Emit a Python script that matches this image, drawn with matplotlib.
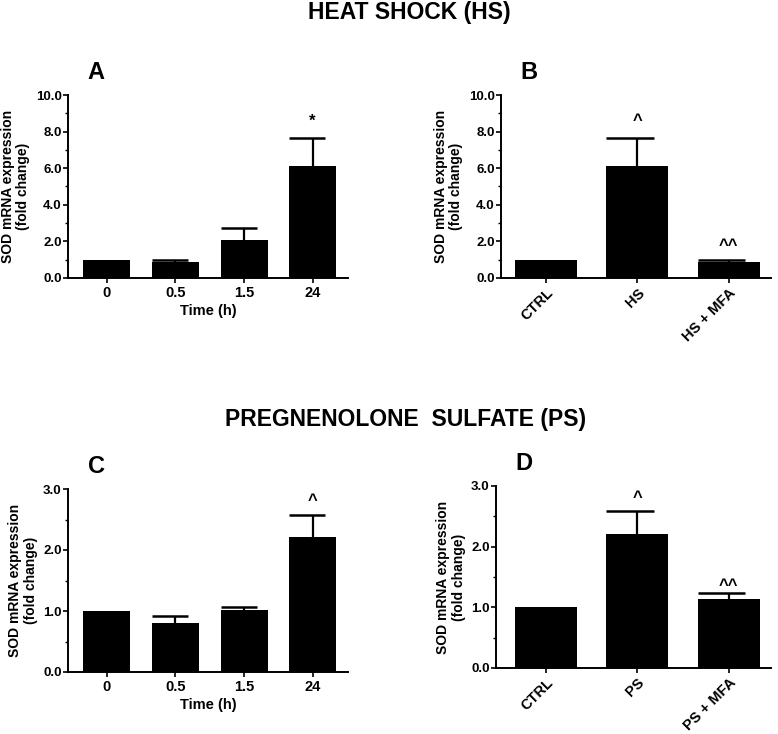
import matplotlib
matplotlib.use('Agg')
import matplotlib.pyplot as plt
import numpy as np

plt.rcParams['font.family'] = ['Liberation Sans', 'DejaVu Sans']
plt.rcParams['font.weight'] = 'bold'

# data
time_labels = ['0', '0.5', '1.5', '24']
hs_time_mean = [1.0, 0.9, 2.1, 6.1]
hs_time_err = [0.0, 0.07, 0.65, 1.57]
hs_time_marks = ['', '', '', '*']

hs_groups = ['CTRL', 'HS', 'HS + MFA']
hs_group_mean = [1.0, 6.1, 0.9]
hs_group_err = [0.0, 1.57, 0.1]
hs_group_marks = ['', '^', '^^']

ps_time_mean = [1.0, 0.8, 1.01, 2.21]
ps_time_err = [0.0, 0.11, 0.06, 0.37]
ps_time_marks = ['', '', '', '^']

ps_groups = ['CTRL', 'PS', 'PS + MFA']
ps_group_mean = [1.0, 2.21, 1.14]
ps_group_err = [0.0, 0.37, 0.1]
ps_group_marks = ['', '^', '^^']

W, H = 778, 734
fig = plt.figure(figsize=(W / 100, H / 100), dpi=100)


def px_axes(left, right, top, bottom):
    return fig.add_axes([left / W, 1 - bottom / H, (right - left) / W, (bottom - top) / H])


def panel(ax, labels, mean, err, marks, ymax, major, xlim, width, rotate,
          letter, mark_off, xlabel=None):
    x = np.arange(len(mean))
    ax.bar(x, mean, width=width, color='black', zorder=2)
    for xi, m, e in zip(x, mean, err):
        if e > 0:
            ax.vlines(xi, m, m + e, color='black', lw=1.6, zorder=1)
            ax.hlines(m + e, xi - width / 2, xi + width * 0.27, color='black', lw=1.8, zorder=1)
    for xi, m, e, t, off in zip(x, mean, err, marks, mark_off):
        if t:
            ax.annotate(t, (xi, m + e), xytext=(0, off), textcoords='offset points',
                        ha='center', va='center', fontsize=12, fontweight='bold')
    ax.set_xlim(*xlim)
    ax.set_ylim(0, ymax)
    ax.set_yticks(np.arange(0, ymax + 1e-9, major))
    ax.set_yticks(np.arange(major / 2, ymax, major), minor=True)
    ax.set_yticklabels(['%.1f' % v for v in np.arange(0, ymax + 1e-9, major)])
    ax.set_xticks(x)
    if rotate:
        ax.set_xticklabels(labels, rotation=45, ha='right', va='top', rotation_mode='anchor')
    else:
        ax.set_xticklabels(labels)
    for s in ['top', 'right']:
        ax.spines[s].set_visible(False)
    for s in ['left', 'bottom']:
        ax.spines[s].set_linewidth(1.4)
    ax.tick_params(axis='both', which='major', length=3.5, width=1.2, pad=1)
    ax.tick_params(axis='y', labelsize=9.5)
    ax.tick_params(axis='x', labelsize=10.5, pad=2)
    ax.tick_params(axis='y', which='minor', length=2.5, width=1.0)
    for lab in ax.get_xticklabels() + ax.get_yticklabels():
        lab.set_fontweight('bold')
    ax.set_ylabel('SOD mRNA expression\n(fold change)', fontsize=10, fontweight='bold',
                  labelpad=4, linespacing=1.1)
    if xlabel:
        ax.set_xlabel(xlabel, fontsize=10.5, fontweight='bold', labelpad=3)
    ax.text(0.07, 1.06, letter, transform=ax.transAxes, fontsize=17, fontweight='bold',
            ha='left', va='bottom')


axA = px_axes(68, 348, 95, 278)
panel(axA, time_labels, hs_time_mean, hs_time_err, hs_time_marks, 10, 2,
      (-0.569, 3.518), 0.686, False, 'A', [0, 0, 0, 12], 'Time (h)')

axB = px_axes(501, 771, 95, 278)
panel(axB, hs_groups, hs_group_mean, hs_group_err, hs_group_marks, 10, 2,
      (-0.496, 2.465), 0.68, True, 'B', [0, 12, 10])

axC = px_axes(68, 348, 489, 672)
panel(axC, time_labels, ps_time_mean, ps_time_err, ps_time_marks, 3, 1,
      (-0.569, 3.518), 0.686, False, 'C', [0, 0, 0, 10], 'Time (h)')

axD = px_axes(496, 771, 486, 668)
panel(axD, ps_groups, ps_group_mean, ps_group_err, ps_group_marks, 3, 1,
      (-0.548, 2.465), 0.68, True, 'D', [0, 10, 5])

fig.text(409 / W, 1 - 13 / H, 'HEAT SHOCK (HS)', ha='center', va='center',
         fontsize=16.5, fontweight='bold')
fig.text(406 / W, 1 - 419 / H, 'PREGNENOLONE  SULFATE (PS)', ha='center', va='center',
         fontsize=16.5, fontweight='bold')

fig.savefig('out.png', dpi=100)
